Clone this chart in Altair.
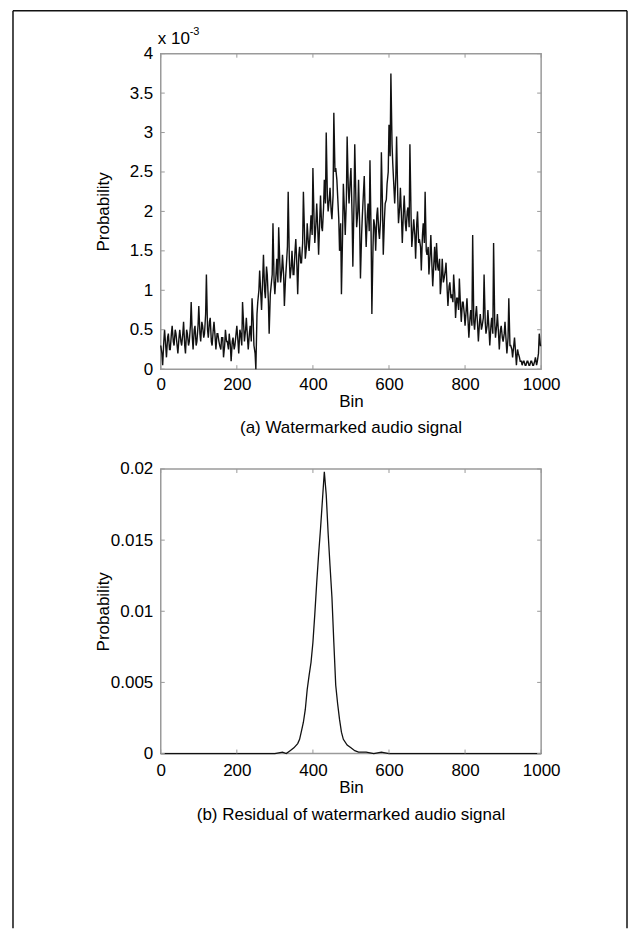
import altair as alt
import pandas as pd

FONT = "Liberation Sans"

# ---------- data ----------
# (a) watermarked audio signal: probability per bin, units of 1e-3
top_bins = list(range(0, 1001, 5))
top_prob_e3 = [
    0.30, 0.05, 0.50, 0.15, 0.45, 0.25, 0.55, 0.30, 0.45, 0.20,
    0.50, 0.30, 0.60, 0.20, 0.45, 0.35, 0.85, 0.25, 0.55, 0.35,
    0.80, 0.35, 0.55, 0.45, 1.20, 0.40, 0.65, 0.30, 0.60, 0.25,
    0.45, 0.30, 0.40, 0.15, 0.50, 0.35, 0.45, 0.10, 0.40, 0.30,
    0.55, 0.20, 0.45, 0.85, 0.35, 0.65, 0.25, 0.55, 0.90, 0.30,
    0.00, 0.85, 1.25, 0.75, 1.45, 0.90, 1.20, 0.45, 1.05, 1.85,
    0.95, 1.40, 1.80, 1.10, 1.45, 0.80, 1.30, 2.25, 1.15, 1.50,
    1.20, 1.65, 0.95, 1.55, 1.35, 2.25, 1.40, 1.85, 1.50, 1.95,
    2.55, 1.60, 2.10, 1.45, 2.20, 1.75, 2.40, 3.00, 2.00, 2.30,
    1.90, 3.25, 2.55, 2.20, 1.50, 0.95, 2.35, 1.70, 2.95, 2.10,
    2.55, 1.30, 2.85, 1.80, 2.40, 1.15, 1.95, 2.45, 1.55, 2.10,
    2.65, 0.70, 1.90, 1.50, 2.05, 1.65, 2.75, 1.45, 2.10, 2.35,
    3.10, 3.75, 2.60, 2.10, 2.95, 1.85, 2.30, 1.60, 2.20, 1.75,
    2.05, 2.85, 1.55, 1.90, 1.40, 2.00, 1.65, 1.25, 1.85, 2.25,
    1.45, 1.20, 1.70, 1.05, 1.55, 1.60, 1.25, 0.95, 1.40, 1.15,
    1.35, 0.80, 1.10, 0.95, 1.20, 0.65, 0.90, 1.15, 0.60, 0.85,
    0.55, 0.90, 0.40, 0.75, 1.70, 0.50, 0.80, 0.35, 0.70, 0.55,
    1.20, 0.45, 0.75, 0.30, 0.65, 1.60, 0.40, 0.70, 0.25, 0.55,
    0.35, 0.60, 0.20, 0.90, 0.30, 0.15, 0.40, 0.05, 0.20, 0.10,
    0.05, 0.10, 0.05, 0.10, 0.05, 0.10, 0.05, 0.15, 0.10, 0.45,
    0.30,
]
# in-between bins of the same histogram (bins 3, 8, 13, ...)
top_mid_bins = list(range(3, 1000, 5))
top_mid_prob_e3 = [
    0.20, 0.35, 0.30, 0.40, 0.25, 0.45, 0.35, 0.50, 0.30, 0.40,
    0.35, 0.45, 0.30, 0.50, 0.30, 0.55, 0.40, 0.50, 0.30, 0.55,
    0.45, 0.60, 0.40, 0.70, 0.50, 0.60, 0.35, 0.50, 0.40, 0.45,
    0.35, 0.25, 0.40, 0.30, 0.35, 0.25, 0.30, 0.35, 0.25, 0.45,
    0.35, 0.50, 0.30, 0.55, 0.50, 0.40, 0.45, 0.35, 0.60, 0.20,
    0.70, 1.00, 0.95, 1.15, 1.00, 1.30, 0.85, 0.95, 1.20, 1.10,
    1.20, 1.10, 1.35, 1.25, 1.20, 1.15, 1.55, 1.40, 1.30, 1.20,
    1.50, 1.30, 1.45, 1.35, 1.60, 1.70, 1.55, 1.60, 1.75, 1.70,
    1.90, 1.85, 1.75, 1.90, 1.80, 2.05, 2.10, 2.20, 2.15, 2.00,
    2.20, 2.50, 2.40, 1.90, 1.85, 1.70, 2.00, 2.15, 2.30, 2.40,
    1.95, 2.10, 2.15, 2.00, 1.80, 1.70, 2.25, 1.85, 1.95, 1.75,
    1.70, 1.55, 1.80, 1.95, 1.75, 1.90, 2.05, 1.90, 2.15, 2.50,
    2.70, 2.85, 2.30, 2.45, 2.20, 2.05, 1.90, 2.00, 1.85, 2.00,
    1.80, 1.95, 1.75, 1.70, 1.85, 1.60, 1.55, 1.70, 1.60, 1.50,
    1.55, 1.45, 1.30, 1.35, 1.25, 1.30, 1.40, 1.15, 1.10, 1.25,
    1.00, 1.05, 0.90, 0.85, 0.95, 0.90, 0.75, 0.80, 0.85, 0.70,
    0.75, 0.60, 0.65, 0.55, 0.60, 0.70, 0.55, 0.60, 0.50, 0.65,
    0.60, 0.55, 0.50, 0.55, 0.45, 0.60, 0.55, 0.45, 0.50, 0.40,
    0.45, 0.35, 0.40, 0.30, 0.25, 0.30, 0.20, 0.25, 0.15, 0.10,
    0.10, 0.05, 0.10, 0.05, 0.10, 0.05, 0.10, 0.05, 0.20, 0.30,
]

# (b) residual of watermarked audio signal
bot_bins = [0, 300, 320, 330, 340, 350, 360, 365, 370, 375, 380, 385, 390, 395,
            400, 405, 410, 415, 420, 425, 430, 435, 440, 445, 450, 455, 460,
            465, 470, 475, 480, 490, 500, 510, 520, 540, 560, 580, 600, 1000]
bot_prob = [0, 0, 0.0001, 0.0, 0.0002, 0.0004, 0.0007, 0.0010, 0.0016, 0.0022,
            0.0031, 0.0045, 0.0055, 0.0064, 0.0078, 0.0098, 0.0120, 0.0140,
            0.0158, 0.0178, 0.0198, 0.0182, 0.0155, 0.0132, 0.0110, 0.0078,
            0.0048, 0.0035, 0.0024, 0.0015, 0.0010, 0.0006, 0.0004, 0.0002,
            0.0001, 0.0001, 0.0, 0.0001, 0.0, 0.0]

x_ticks = [0, 200, 400, 600, 800, 1000]
top_y_ticks = [0, 0.5, 1, 1.5, 2, 2.5, 3, 3.5, 4]
bot_y_ticks = [0, 0.005, 0.01, 0.015, 0.02]

top_caption = "(a) Watermarked audio signal"
bot_caption = "(b) Residual of watermarked audio signal"

# ---------- layout ----------
W = 381
H_TOP = 316
H_BOT = 285
GAP = 100
FS = 17
GRAY = "#9a9a9a"
TICK = 4


def panel(df, ymax, yticks, H, caption, cap_off, lab_pad, bin_y, lw):
    xs = alt.Scale(domain=[0, 1000], nice=False, zero=False)
    ys = alt.Scale(domain=[0, ymax], nice=False, zero=False)
    x_axis = alt.Axis(values=x_ticks, format="d", title="Bin", labelPadding=lab_pad,
                      labelFlush=False, labelOverlap=False,
                      titleY=bin_y, titleBaseline="middle")
    y_axis = alt.Axis(values=yticks, format="~g", title="Probability",
                      labelPadding=8, labelFlush=False, labelOverlap=False,
                      titleAngle=270, titleBaseline="middle", titleAlign="center",
                      titleX=-57, titleY=H / 2)
    X = alt.X("bin:Q", scale=xs, axis=x_axis)
    Y = alt.Y("p:Q", scale=ys, axis=y_axis)
    line = alt.Chart(df).mark_line(color="#111", strokeWidth=lw).encode(x=X, y=Y)
    xt = pd.DataFrame({"bin": x_ticks})
    yt = pd.DataFrame({"p": yticks})
    xb = alt.Chart(xt).mark_rule(color=GRAY, strokeWidth=1).encode(
        x=X, y=alt.value(H), y2=alt.value(H - TICK))
    xtop = alt.Chart(xt).mark_rule(color=GRAY, strokeWidth=1).encode(
        x=X, y=alt.value(0), y2=alt.value(TICK))
    yl = alt.Chart(yt).mark_rule(color=GRAY, strokeWidth=1).encode(
        y=Y, x=alt.value(0), x2=alt.value(TICK))
    yr = alt.Chart(yt).mark_rule(color=GRAY, strokeWidth=1).encode(
        y=Y, x=alt.value(W), x2=alt.value(W - TICK))
    cap = alt.Chart(pd.DataFrame({"t": [caption]})).mark_text(
        font=FONT, fontSize=FS, color="black", baseline="middle", align="center"
    ).encode(text="t:N", x=alt.value(W / 2), y=alt.value(H + cap_off))
    return [line, xb, xtop, yl, yr, cap]


one = pd.DataFrame({"k": [0]})

top_df = pd.concat([
    pd.DataFrame({"bin": top_bins, "p": top_prob_e3}),
    pd.DataFrame({"bin": top_mid_bins, "p": top_mid_prob_e3}),
]).sort_values("bin")

top_layers = panel(top_df, 4, top_y_ticks, H_TOP, top_caption, 59, 7, 32, 1.4)
exp1 = alt.Chart(one).mark_text(font=FONT, fontSize=FS, color="black",
                                align="left", baseline="middle", text="x 10").encode(
    x=alt.value(-3), y=alt.value(-15))
exp2 = alt.Chart(one).mark_text(font=FONT, fontSize=11, color="black",
                                align="left", baseline="middle", text="-3").encode(
    x=alt.value(29), y=alt.value(-22))
# outer frame of the figure
FL, FT, FR, FB = -148, -43, 467, 876
fl = alt.Chart(one).mark_rule(color="#111", strokeWidth=1.5).encode(
    x=alt.value(FL), y=alt.value(FT), y2=alt.value(FB))
ft = alt.Chart(one).mark_rule(color="#111", strokeWidth=1.5).encode(
    x=alt.value(FL), x2=alt.value(FR), y=alt.value(FT))
fr = alt.Chart(one).mark_rule(color="#111", strokeWidth=1.5).encode(
    x=alt.value(FR), y=alt.value(FT), y2=alt.value(FB))

top = alt.layer(*top_layers, exp1, exp2, fl, ft, fr).properties(width=W, height=H_TOP)

bot_df = pd.DataFrame({"bin": bot_bins, "p": bot_prob})
bot_layers = panel(bot_df, 0.02, bot_y_ticks, H_BOT, bot_caption, 62, 9, 34, 1.3)
bot = alt.layer(*bot_layers).properties(width=W, height=H_BOT)

chart = alt.vconcat(top, bot, spacing=GAP, bounds="flush").properties(
    padding={"left": 3, "top": 0, "right": 0, "bottom": 0}
).configure_axis(
    labelFont=FONT, titleFont=FONT, labelFontSize=FS, titleFontSize=FS,
    labelColor="black", titleColor="black", titleFontWeight="normal",
    domain=False, ticks=False, grid=False,
).configure_view(stroke=GRAY, strokeWidth=1.5)

chart.save("out.html", embed_options={"renderer": "svg", "actions": False})
